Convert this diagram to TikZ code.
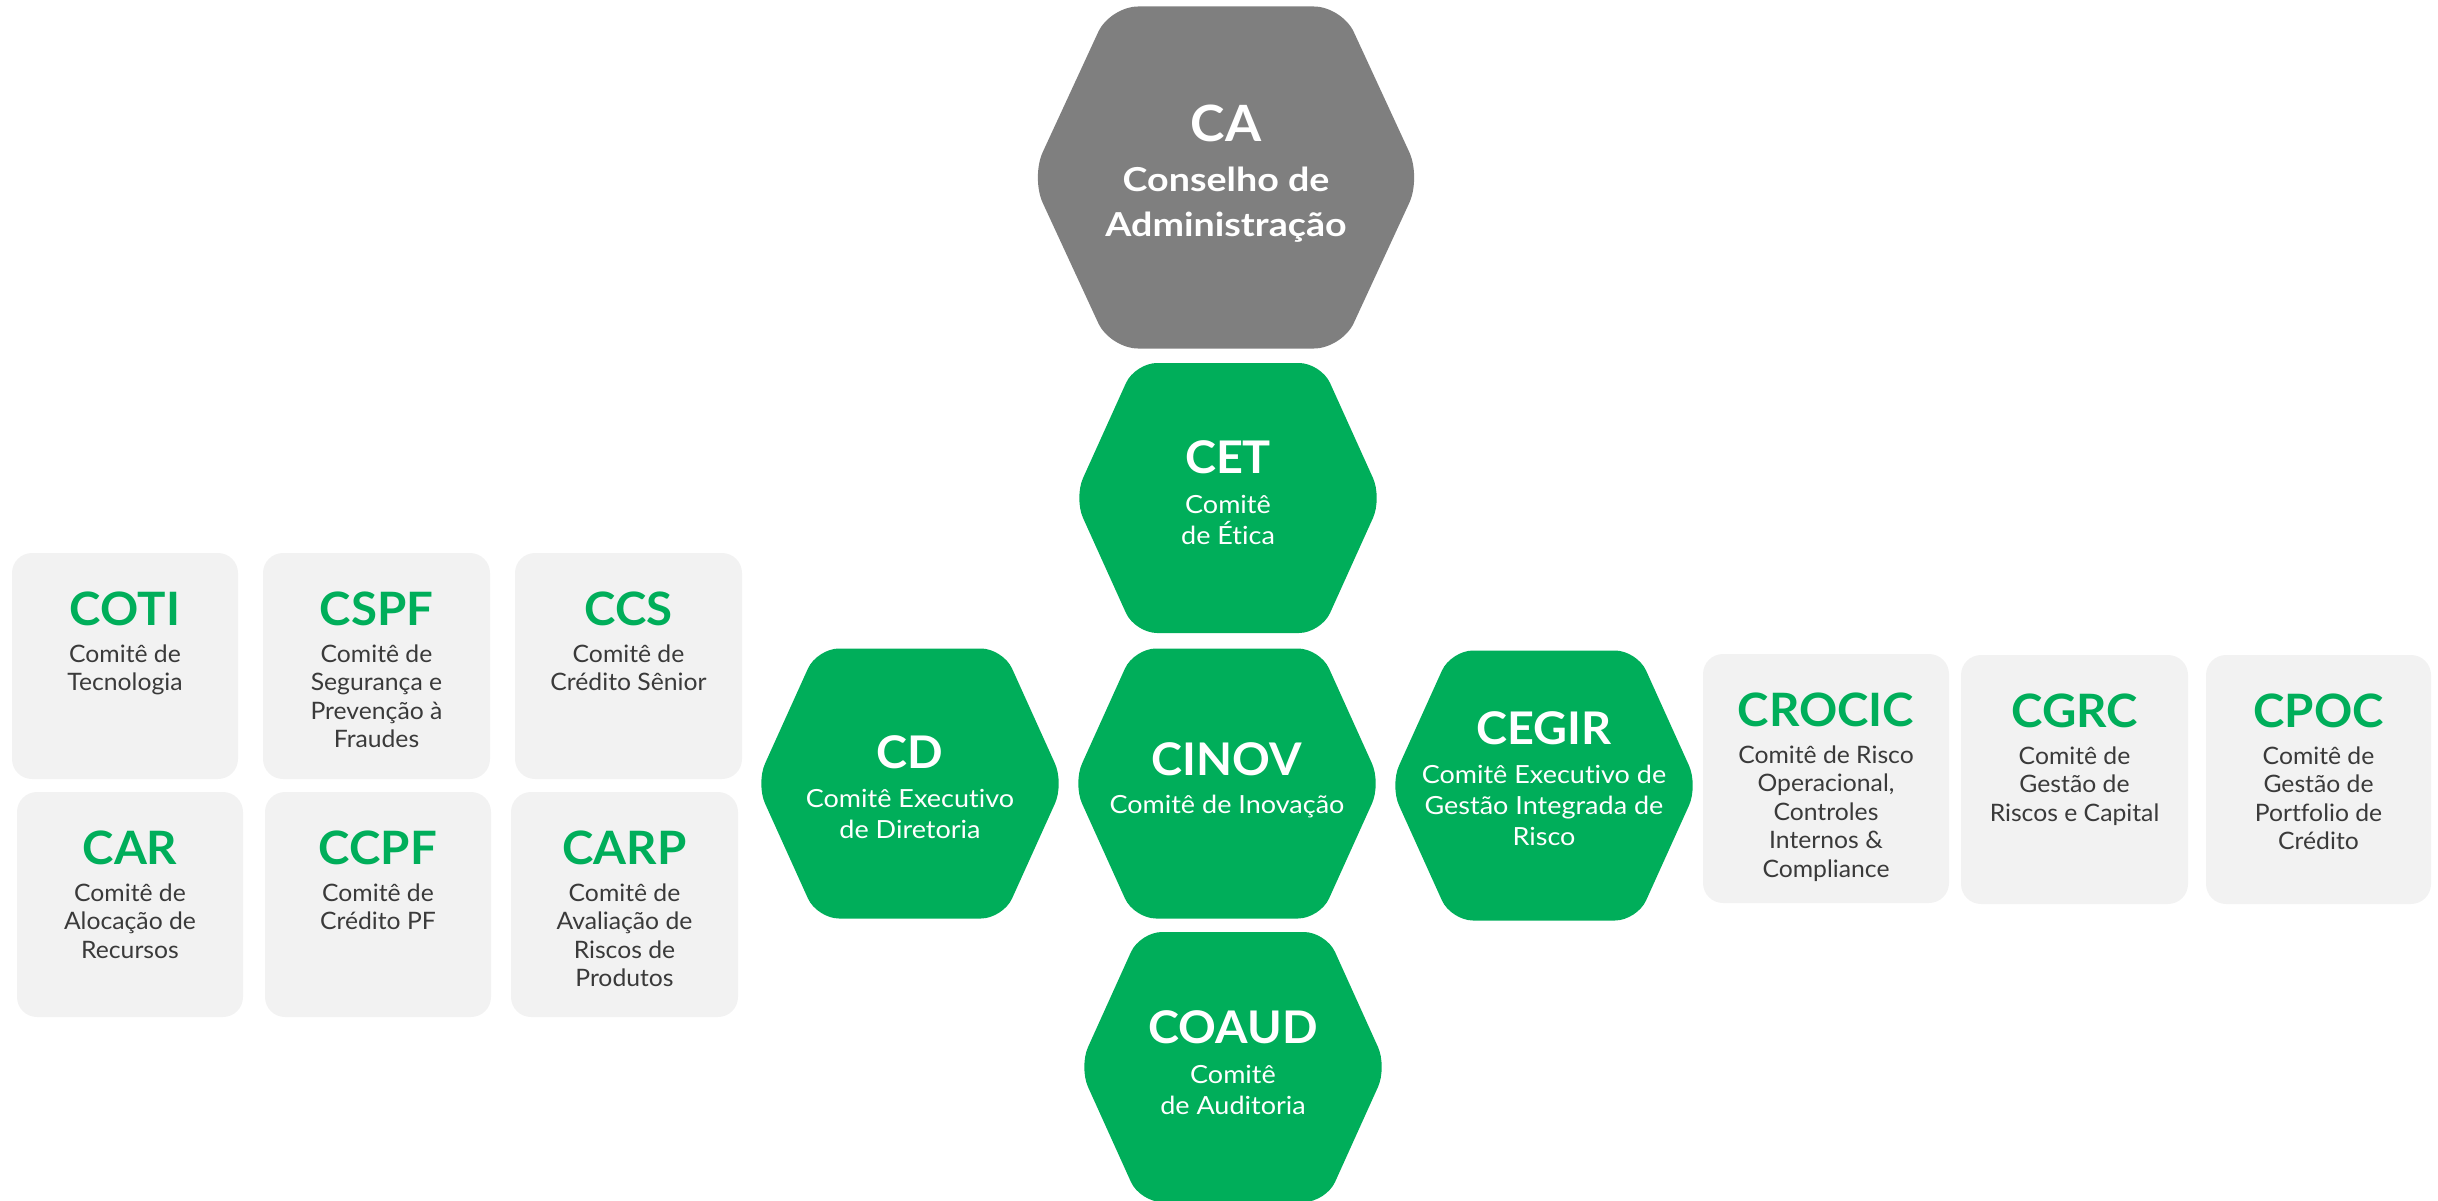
\documentclass[tikz,border=0pt]{standalone}
\usepackage{fontspec}
\setmainfont{Lato}[Ligatures=NoCommon]
\newfontfamily\hexdescfont{Lato}[FakeStretch=1.08, Ligatures=NoCommon]
\newfontfamily\cafont{Lato}[FakeStretch=1.14, Ligatures=NoCommon]
\newfontfamily\titlefont{Lato}[FakeStretch=1.04, Ligatures=NoCommon]
\newfontfamily\boxfont{Lato}[FakeStretch=1.03, Ligatures=NoCommon]
\definecolor{grn}{HTML}{00AE5A}
\definecolor{hexgray}{HTML}{7F7F7F}
\definecolor{boxgray}{HTML}{F2F2F2}
\definecolor{txtgray}{HTML}{3A3A3A}
\newcommand\stacklines[1]{\vtop{\lineskiplimit=-100pt\lineskip=0pt\halign{\hfil##\hfil\cr#1\crcr}}}
% hexagon: cx, cy, colour, W, T, H, r
\newcommand\hexshape[7]{%
  \fill[#3, rounded corners=#7pt, shift={(#1,#2)}]
    (-#4,0) -- (-#5,-#6) -- (#5,-#6) -- (#4,0) -- (#5,#6) -- (-#5,#6) -- cycle;}
\newcommand\greenhex[3]{\hexshape{#2}{#3}{grn}{154}{93}{135}{22}\node[hexcentre] (#1) at (#2,#3) {};}
% gray box: name, left, top, width, height, title, lines
\newcommand\gbox[7]{%
  \node[graybox, minimum width=#4, minimum height=#5] (#1-box) at ({#2+#4/2},{#3+#5/2}) {};
  \node[boxtitle] (#1) at ({#2+#4/2},{#3+72}) {#6};
  \node[boxdesc] (#1-desc) at ({#2+#4/2},{#3+109}) {\stacklines{#7}};}
\begin{document}
\begin{tikzpicture}[x=1pt,y=-1pt,
  hexcentre/.style={inner sep=0pt, minimum size=0pt},
  hextitle/.style={font=\titlefont\fontsize{45}{50}\selectfont\bfseries, text=white, anchor=base, inner sep=0pt},
  hexdesc/.style={font=\hexdescfont\fontsize{25}{31}\selectfont, text=white, anchor=base, inner sep=0pt},
  catitle/.style={font=\titlefont\fontsize{50}{54}\selectfont\bfseries, text=white, anchor=base, inner sep=0pt},
  cadesc/.style={font=\cafont\fontsize{33}{45}\selectfont\bfseries, text=white, anchor=base, inner sep=0pt},
  graybox/.style={fill=boxgray, rounded corners=20pt, inner sep=0pt},
  boxtitle/.style={font=\boxfont\fontsize{46}{50}\selectfont\bfseries, text=grn, anchor=base, inner sep=0pt},
  boxdesc/.style={font=\boxfont\fontsize{24}{28.6}\selectfont, text=txtgray, anchor=base, inner sep=0pt}]
\useasboundingbox (0,0) rectangle (2438,1201);

% CA
\hexshape{1226}{177.5}{hexgray}{195}{116}{171}{28}
\node[hexcentre] (ca) at (1226,177.5) {};
\node[catitle] (ca-title) at (1226,142) {CA};
\node[cadesc] (ca-desc) at (1226,192) {\stacklines{Conselho de\cr Administração}};

% green hexagons
\greenhex{cet}{1228}{498}
\node[hextitle] (cet-title) at (1228,473) {CET};
\node[hexdesc] (cet-desc) at (1228,513) {\stacklines{Comitê\cr de Ética}};

\greenhex{cd}{910}{783.5}
\node[hextitle] (cd-title) at (910,768) {CD};
\node[hexdesc] (cd-desc) at (910,807) {\stacklines{Comitê Executivo\cr de Diretoria}};

\greenhex{cinov}{1227}{783.5}
\node[hextitle] (cinov-title) at (1227,775) {CINOV};
\node[hexdesc] (cinov-desc) at (1227,813) {\stacklines{Comitê de Inovação}};

\greenhex{cegir}{1544}{785.5}
\node[hextitle] (cegir-title) at (1544,744) {CEGIR};
\node[hexdesc] (cegir-desc) at (1544,783) {\stacklines{Comitê Executivo de\cr Gestão Integrada de\cr Risco}};

\greenhex{coaud}{1233}{1067}
\node[hextitle] (coaud-title) at (1233,1043) {COAUD};
\node[hexdesc] (coaud-desc) at (1233,1083) {\stacklines{Comitê\cr de Auditoria}};

% gray boxes left
\gbox{coti}{12}{553}{226}{226}{COTI}{Comitê de\cr Tecnologia}
\gbox{cspf}{263}{553}{227}{226}{CSPF}{Comitê de\cr Segurança e\cr Prevenção à\cr Fraudes}
\gbox{ccs}{515}{553}{227}{226}{CCS}{Comitê de\cr Crédito Sênior}
\gbox{car}{17}{792}{226}{225}{CAR}{Comitê de\cr Alocação de\cr Recursos}
\gbox{ccpf}{265}{792}{226}{225}{CCPF}{Comitê de\cr Crédito PF}
\gbox{carp}{511}{792}{227}{225}{CARP}{Comitê de\cr Avaliação de\cr Riscos de\cr Produtos}

% gray boxes right
\gbox{crocic}{1703}{654}{246}{249}{CROCIC}{Comitê de Risco\cr Operacional,\cr Controles\cr Internos \&\cr Compliance}
\gbox{cgrc}{1961}{655}{227}{249}{CGRC}{Comitê de\cr Gestão de\cr Riscos e Capital}
\gbox{cpoc}{2206}{655}{225}{249}{CPOC}{Comitê de\cr Gestão de\cr Portfolio de\cr Crédito}
\end{tikzpicture}
\end{document}
